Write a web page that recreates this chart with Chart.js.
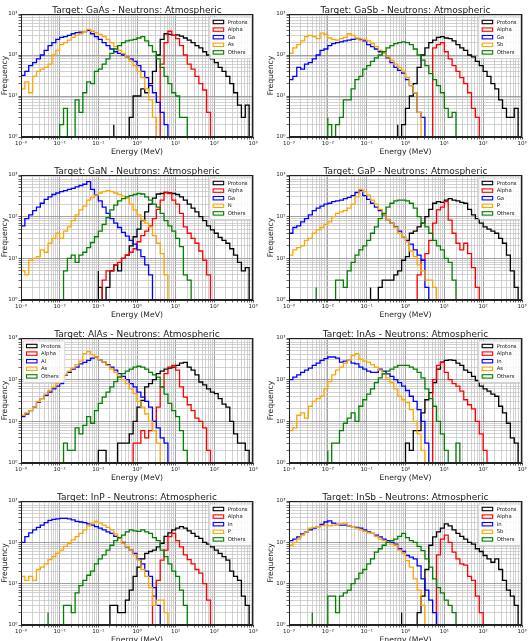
<!DOCTYPE html>
<html>
<head>
<meta charset="utf-8">
<script src="https://cdn.jsdelivr.net/npm/chart.js@4.4.1/dist/chart.umd.min.js"></script>
<style>
  html, body { margin: 0; padding: 0; background: #fff; overflow: hidden; }
  #wrap { position: relative; width: 531px; height: 641px; }
  canvas { position: absolute; }
</style>
</head>
<body>
<div id="wrap"></div>
<script>
// histogram counts, 10 log bins per decade from 1e-3 to 1e3 MeV; "from" = first bin index
const GaAs_Protons = { from: 24, n: [2,0,0,0,0,3,10,10,15,12,20,40,100,240,330,320,300,310,290,260,230,200,170,150,120,100,80,65,50,40,30,20,12,6,3,6] };
const GaAs_Alpha   = { from: 36, n: [3,60,200,380,300,250,170,100,60,45,30,20,14,4,1] };
const GaAs_Ga      = { from: 0,  n: [27,32,40,55,65,80,100,130,170,200,240,270,280,300,330,350,360,370,400,330,280,240,200,170,140,120,110,100,90,80,70,55,40,28,18,12,7,4,2] };
const GaAs_As      = { from: 0,  n: [5,15,22,12,30,40,45,50,60,100,130,180,200,230,270,300,330,370,420,380,350,320,280,240,200,160,130,110,90,70,55,40,28,15,8,3] };
const GaAs_Others  = { from: 10, n: [1,2,5,0,0,8,4,12,22,20,40,45,60,80,110,140,170,200,220,230,240,260,280,220,170,120,80,50,30,20,12,10,3,3] };

const GaSb_Protons = { from: 28, n: [2,0,2,5,10,20,50,100,150,200,230,270,280,260,250,220,180,150,130,100,90,70,55,40,30,20,15,8,5,3,3,5] };
const GaSb_Alpha   = { from: 37, n: [20,150,180,200,120,80,55,40,28,20,12,5,3] };
const GaSb_Ga      = { from: 0,  n: [22,25,30,50,45,60,65,80,100,130,140,170,190,200,210,220,230,240,250,240,220,180,160,140,120,110,85,65,50,42,36,25,18,12,4,3] };
const GaSb_Sb      = { from: 0,  n: [80,110,150,180,220,280,300,280,250,340,320,260,240,230,250,270,330,300,260,230,240,220,190,160,130,110,90,75,60,50,40,28,18,12,4] };
const GaSb_Others  = { from: 10, n: [3,2,0,2,3,8,8,15,25,30,45,55,70,85,100,120,150,170,190,200,210,200,180,140,100,75,55,35,25,18,12,5,3,4] };

const GaN_Protons  = { from: 20, n: [5,2,1,2,5,7,5,10,12,20,33,50,80,130,200,280,350,360,380,370,360,340,300,250,200,160,130,100,80,60,48,40,32,27,23,17,12,8,5,6] };
const GaN_Alpha    = { from: 21, n: [2,3,5,5,7,8,10,12,14,17,25,35,45,60,90,150,250,380,360,250,200,120,57,40,30,23,15,9,4] };
const GaN_Ga       = { from: 0,  n: [45,60,90,110,140,170,210,260,300,340,370,400,420,450,480,520,560,600,690,450,330,240,170,120,90,70,55,42,34,27,22,16,11,7,4,1] };
const GaN_N        = { from: 0,  n: [3,5,4,9,10,11,16,14,23,30,40,30,45,57,80,110,145,180,250,290,330,370,400,420,400,370,340,310,275,200,145,110,83,70,57,35,23,13,4] };
const GaN_Others   = { from: 11, n: [2,5,10,12,8,12,14,18,24,33,45,65,95,145,190,240,270,300,320,340,360,350,300,250,200,170,120,80,60,45,30,19,4,3] };

const GaP_Protons  = { from: 21, n: [2,0,1,2,3,3,3,4,5,9,11,40,45,57,70,100,150,210,230,220,250,270,250,240,220,210,150,110,90,70,57,50,45,40,30,23,12,5,2] };
const GaP_Alpha    = { from: 33, n: [2,4,9,13,27,70,145,170,230,83,40,23,16,23,13,6,2] };
const GaP_Ga       = { from: 0,  n: [28,40,55,60,75,90,110,140,160,180,200,210,230,240,250,270,290,320,380,420,320,260,210,170,140,110,85,70,57,45,33,27,22,16,12,9,2] };
const GaP_P        = { from: 0,  n: [8,12,16,18,20,27,30,40,48,55,65,75,100,120,130,140,160,200,300,450,400,330,250,200,150,110,85,70,55,40,33,25,15,11,7,5,3,3,2] };
const GaP_Others   = { from: 7,  n: [2,0,0,0,0,0,3,3,2,5,8,12,16,20,27,40,57,90,120,170,210,240,250,250,240,210,160,100,70,57,40,27,20,16,10,8,3] };

const AlAs_Protons = { from: 20, n: [2,2,2,0,0,1,3,3,3,5,10,22,32,67,80,100,140,160,180,190,200,220,250,260,200,170,130,88,75,60,50,46,35,26,22,10,5,3,3,2] };
const AlAs_Alpha   = { from: 29, n: [2,3,3,6,4,6,10,22,67,140,200,220,170,67,38,25,18,12,10,7,2] };
const AlAs_Al      = { from: 0,  n: [7,13,15,18,22,29,35,42,50,60,70,80,127,150,180,200,240,260,290,330,350,300,265,230,200,170,140,120,100,80,67,50,38,30,22,10,7,4,3] };
const AlAs_As      = { from: 0,  n: [10,14,16,18,22,30,35,45,55,65,80,100,130,160,190,230,280,420,470,400,350,300,265,220,180,150,120,100,80,60,46,30,22,15,10,6,3] };
const AlAs_Others  = { from: 11, n: [2,3,2,2,7,5,8,13,9,18,27,38,50,67,90,115,140,160,180,200,210,200,180,150,130,115,67,45,27,18,13,6,2] };

const InAs_Protons = { from: 30, n: [2,3,2,6,6,16,33,49,85,180,265,290,300,290,250,220,170,150,120,95,70,60,53,45,40,23,16,9,4,3] };
const InAs_Alpha   = { from: 37, n: [16,100,220,260,150,100,80,70,53,33,25,20,10,5,2] };
const InAs_In      = { from: 0,  n: [85,100,115,130,150,170,190,220,250,290,320,350,350,330,265,280,290,250,240,200,180,160,150,150,180,160,137,120,100,85,70,55,40,30,19,10,3] };
const InAs_As      = { from: 0,  n: [6,6,7,14,16,12,23,30,35,40,60,90,130,170,200,250,290,380,420,310,280,265,230,200,170,137,110,85,60,40,33,28,19,10,5,2] };
const InAs_Others  = { from: 10, n: [2,0,3,3,6,9,12,16,10,23,33,45,60,85,110,137,160,180,200,220,220,220,200,180,150,110,60,35,23,10,5,2,0,0,3] };

const InP_Protons  = { from: 23, n: [3,3,3,2,2,4,7,15,25,40,54,60,65,78,95,140,170,200,220,240,220,190,165,140,125,100,90,78,65,54,45,37,20,15,12,5,3] };
const InP_Alpha    = { from: 34, n: [3,5,12,37,65,137,165,110,78,50,38,30,22,18,10,4] };
const InP_In       = { from: 0,  n: [78,100,137,170,200,230,260,300,340,360,370,380,380,370,350,320,310,300,280,260,240,220,200,180,165,140,125,100,78,65,54,40,30,20,15,8,3] };
const InP_P        = { from: 0,  n: [10,15,12,15,12,22,25,30,38,45,55,65,80,95,115,137,165,200,250,290,320,290,260,230,200,160,125,95,80,65,50,37,22,15,8,3,4,4,2] };
const InP_Others   = { from: 7,  n: [2,0,0,0,0,3,3,2,6,9,12,16,20,30,40,50,65,85,110,130,150,180,200,190,185,200,180,165,130,110,65,45,30,20,15,7,3] };

const InSb_Protons = { from: 29, n: [2,0,0,0,0,2,5,22,85,135,180,220,280,250,200,165,140,120,100,90,70,60,48,40,33,40,22,12,7,5,3] };
const InSb_Alpha   = { from: 38, n: [3,50,120,150,100,58,40,30,28,15,12,5,2] };
const InSb_In      = { from: 0,  n: [85,110,120,135,160,180,200,220,240,270,310,330,290,270,260,260,250,240,230,220,200,180,165,150,135,120,110,100,90,70,60,48,44,40,27,13,7,4,2] };
const InSb_Sb      = { from: 0,  n: [58,85,100,120,150,180,220,230,240,255,260,250,260,270,280,290,250,240,220,200,185,170,165,140,120,110,100,90,85,65,55,36,25,13,7,3] };
const InSb_Others  = { from: 6,  n: [2,0,0,0,0,5,5,2,5,6,7,10,13,18,22,30,40,58,70,85,100,110,120,140,165,130,110,100,80,63,40,25,13,8,6,4,3,2] };

const targets  = ['GaAs', 'GaSb', 'GaN', 'GaP', 'AlAs', 'InAs', 'InP', 'InSb'];
const elementA = ['Ga', 'Ga', 'Ga', 'Ga', 'Al', 'In', 'In', 'In'];
const elementB = ['As', 'Sb', 'N', 'P', 'As', 'As', 'P', 'Sb'];
const seriesByTarget = [
  [GaAs_Protons, GaAs_Alpha, GaAs_Ga, GaAs_As, GaAs_Others],
  [GaSb_Protons, GaSb_Alpha, GaSb_Ga, GaSb_Sb, GaSb_Others],
  [GaN_Protons, GaN_Alpha, GaN_Ga, GaN_N, GaN_Others],
  [GaP_Protons, GaP_Alpha, GaP_Ga, GaP_P, GaP_Others],
  [AlAs_Protons, AlAs_Alpha, AlAs_Al, AlAs_As, AlAs_Others],
  [InAs_Protons, InAs_Alpha, InAs_In, InAs_As, InAs_Others],
  [InP_Protons, InP_Alpha, InP_In, InP_P, InP_Others],
  [InSb_Protons, InSb_Alpha, InSb_In, InSb_Sb, InSb_Others],
];
const xExp = [-3, 3];
const yExp = [0, 3];
const binsPerDecade = 10;

// layout (page pixels): plot area of each panel
const plotBoxes = [
  [21, 14, 253, 137], [289, 14, 522, 137],
  [21, 175, 253, 300], [289, 175, 522, 300],
  [21, 338, 253, 463], [289, 338, 522, 463],
  [21, 501, 253, 625], [289, 501, 522, 625],
];
const legendLeft = [false, false, false, false, true, false, false, false];
const COLORS = ['#000000', '#ff0000', '#0000ff', '#ffa500', '#008000'];
const FLOOR = 0.1;

Chart.defaults.font.family = '"DejaVu Sans", sans-serif';
Chart.defaults.color = '#222';

const SUP = { '-': '\u207B', '0': '\u2070', '1': '\u00B9', '2': '\u00B2', '3': '\u00B3' };
const powLabel = e => '10' + String(e).split('').map(c => SUP[c]).join('');
const isDecade = v => {
  const e = Math.round(Math.log10(v));
  return Math.abs(v - Math.pow(10, e)) < 1e-9 * Math.pow(10, e);
};
function logTicks(e0, e1) {
  const out = [];
  for (let e = e0; e < e1; e++) for (let k = 1; k <= 9; k++) out.push({ value: k * Math.pow(10, e) });
  out.push({ value: Math.pow(10, e1) });
  return out;
}
const edge = i => Math.pow(10, xExp[0] + i / binsPerDecade);

function stepPoints(s) {
  const pts = [{ x: edge(s.from), y: FLOOR }];
  s.n.forEach((c, i) => pts.push({ x: edge(s.from + i), y: c > 0 ? c : FLOOR }));
  pts.push({ x: edge(s.from + s.n.length), y: FLOOR });
  return pts;
}

const panelDecor = {
  id: 'panelDecor',
  afterDatasetsDraw(chart, args, opts) {
    const { ctx, chartArea: a } = chart;
    ctx.save();
    // frame
    ctx.strokeStyle = '#222';
    ctx.lineWidth = 1;
    ctx.strokeRect(a.left + 0.5, a.top + 0.5, a.right - a.left - 1, a.bottom - a.top - 1);
    // title
    ctx.fillStyle = '#222';
    ctx.font = '9px "DejaVu Sans"';
    ctx.textAlign = 'center';
    ctx.textBaseline = 'alphabetic';
    ctx.fillText(opts.title, (a.left + a.right) / 2, a.top - 1.5);
    // legend
    ctx.font = '5.3px "DejaVu Sans"';
    const textW = Math.max(...opts.labels.map(l => ctx.measureText(l).width));
    const w = 3 + 11 + 4 + textW + 4, rowH = 7.6, h = 5 + rowH * opts.labels.length - 1.5;
    const x = opts.left ? a.left + 2 : a.right - 1.5 - w;
    const y = a.top + 3;
    ctx.fillStyle = 'rgba(255,255,255,0.85)';
    ctx.strokeStyle = '#cccccc';
    ctx.lineWidth = 0.8;
    ctx.beginPath();
    ctx.roundRect(x, y, w, h, 1.5);
    ctx.fill();
    ctx.stroke();
    ctx.textAlign = 'left';
    ctx.textBaseline = 'middle';
    opts.labels.forEach((l, i) => {
      const cy = y + 5 + i * rowH;
      ctx.strokeStyle = opts.colors[i];
      ctx.lineWidth = 1.1;
      ctx.strokeRect(x + 3.5, cy - 1.7, 10.5, 3.4);
      ctx.fillStyle = '#222';
      ctx.fillText(l, x + 18, cy + 0.3);
    });
    ctx.restore();
  }
};

const wrap = document.getElementById('wrap');
plotBoxes.forEach((box, p) => {
  const [l, t, r, b] = box;
  const yAxisW = p % 2 ? 23 : 21;
  const cx = l - yAxisW, cy = t - 14;
  const cw = r + 9 - cx, ch = b + 24 - cy;
  const cv = document.createElement('canvas');
  cv.width = cw; cv.height = ch;
  cv.style.left = cx + 'px'; cv.style.top = cy + 'px';
  cv.style.width = cw + 'px'; cv.style.height = ch + 'px';
  wrap.appendChild(cv);

  const labels = ['Protons', 'Alpha', elementA[p], elementB[p], 'Others'];
  const datasets = seriesByTarget[p].map((s, i) => ({
    label: labels[i],
    data: stepPoints(s),
    stepped: 'after',
    borderColor: COLORS[i],
    backgroundColor: 'transparent',
    borderWidth: 1.3,
    pointRadius: 0,
    fill: false,
    order: 4 - i,
  }));

  const gridOpts = {
    color: c => (c.tick && isDecade(c.tick.value)) ? '#999999' : '#c6c6c6',
    lineWidth: c => (c.tick && isDecade(c.tick.value)) ? 0.9 : 0.8,
    tickLength: 2.5,
    tickColor: '#444',
  };

  new Chart(cv, {
    type: 'line',
    data: { datasets },
    plugins: [panelDecor],
    options: {
      responsive: false,
      animation: false,
      devicePixelRatio: 1,
      layout: { padding: { left: 0, top: 14, right: 9, bottom: 0 } },
      plugins: {
        legend: { display: false },
        tooltip: { enabled: false },
        panelDecor: { title: `Target: ${targets[p]} - Neutrons: Atmospheric`, labels, colors: COLORS, left: legendLeft[p] },
      },
      scales: {
        x: {
          type: 'logarithmic',
          min: Math.pow(10, xExp[0]), max: Math.pow(10, xExp[1]),
          afterBuildTicks: s => { s.ticks = logTicks(xExp[0], xExp[1]); },
          afterFit: s => { s.height = 24; },
          ticks: {
            autoSkip: false, maxRotation: 0, padding: 1,
            font: { size: 5.5 }, color: '#222',
            callback: v => isDecade(v) ? powLabel(Math.round(Math.log10(v))) : '',
          },
          grid: gridOpts,
          border: { color: '#222', width: 1 },
          title: { display: true, text: 'Energy (MeV)', font: { size: 7.7 }, color: '#222', padding: { top: 0, bottom: 4 } },
        },
        y: {
          type: 'logarithmic',
          min: Math.pow(10, yExp[0]), max: Math.pow(10, yExp[1]),
          afterBuildTicks: s => { s.ticks = logTicks(yExp[0], yExp[1]); },
          afterFit: s => { s.width = yAxisW; },
          ticks: {
            autoSkip: false, padding: 1,
            font: { size: 5.5 }, color: '#222',
            callback: v => isDecade(v) ? powLabel(Math.round(Math.log10(v))) : '',
          },
          grid: gridOpts,
          border: { color: '#222', width: 1 },
          title: { display: true, text: 'Frequency', font: { size: 7.7 }, color: '#222', padding: { top: 0, bottom: 0 } },
        },
      },
    },
  });
});
</script>
</body>
</html>
